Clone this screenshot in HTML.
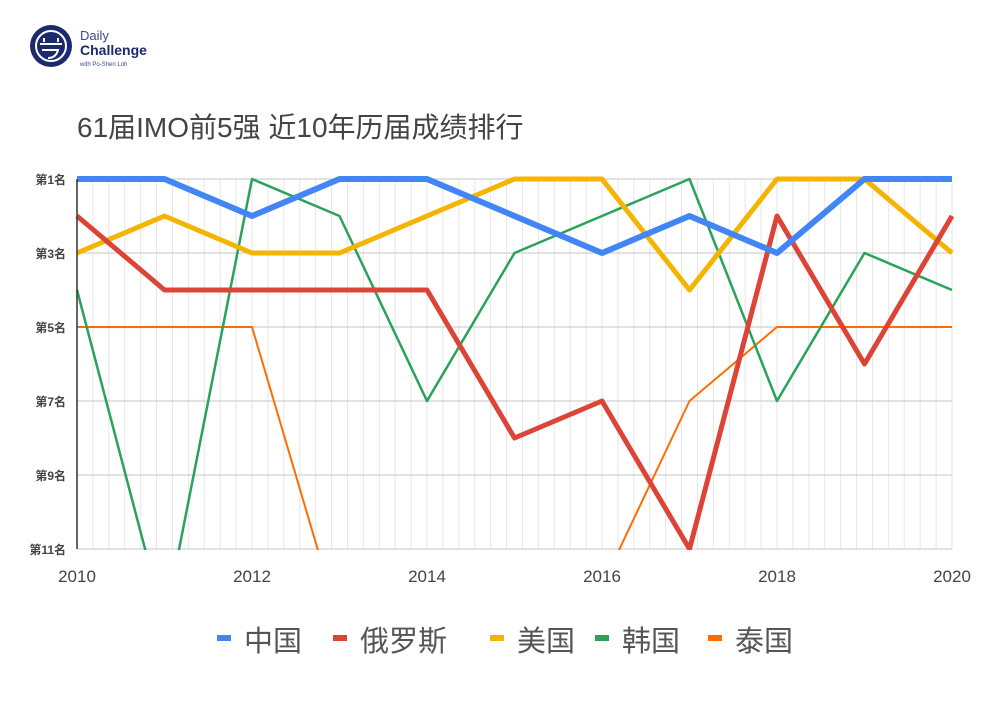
<!DOCTYPE html>
<html><head><meta charset="utf-8"><style>
body{margin:0;background:#fff;}
svg text{font-family:"Liberation Sans","Noto Sans CJK SC",sans-serif;}
</style></head><body>
<svg id="c" width="994" height="704" xmlns="http://www.w3.org/2000/svg">
<g>
<circle cx="51" cy="46" r="21" fill="#1a2a6c"/>
<circle cx="51" cy="46" r="15" fill="none" stroke="#fff" stroke-width="2"/>
<path d="M40 44 H62 M44 38 v4 M58 38 v4 M42 50 H58 Q56 58 48 58" stroke="#fff" stroke-width="2" fill="none"/>
<text x="80" y="40" font-size="13" fill="#3a4a8c">Daily</text>
<text x="80" y="55" font-size="14" font-weight="bold" fill="#1a2a6c">Challenge</text>
<text x="80" y="66" font-size="6" fill="#3a4a8c">with Po-Shen Loh</text>
</g>
<text x="77" y="137" font-size="28" fill="#444">61届IMO前5强 近10年历届成绩排行</text>
<defs><clipPath id="pc"><rect x="70" y="170" width="890" height="380"/></clipPath></defs>
<g id="grid"></g>
<g id="series" clip-path="url(#pc)"></g>
<g id="axes"></g>
<g id="legend"></g>
</svg>
<script>
const years=[2010,2011,2012,2013,2014,2015,2016,2017,2018,2019,2020];
const china=[1,1,2,1,1,2,3,2,3,1,1];
const russia=[2,4,4,4,4,8,7,11,2,6,2];
const usa=[3,2,3,3,2,1,1,4,1,1,3];
const korea=[4,13,1,2,7,3,2,1,7,3,4];
const thailand=[5,5,5,13,13,13,12,7,5,5,5];
const seriesNames=["中国","俄罗斯","美国","韩国","泰国"];
const yTicks=[1,3,5,7,9,11];
const xTicks=[2010,2012,2014,2016,2018,2020];
const NS="http://www.w3.org/2000/svg";
const x=v=>77+(v-2010)*87.5;
const y=r=>179+(r-1)*37;
function mk(t,a,p){const e=document.createElementNS(NS,t);for(const k in a)e.setAttribute(k,a[k]);p.appendChild(e);return e;}
const grid=document.getElementById('grid'),axes=document.getElementById('axes'),ser=document.getElementById('series'),leg=document.getElementById('legend');
for(let i=1;i<=55;i++){const xx=77+i*875/55;
const l=mk('line',{x1:xx,x2:xx,y1:179,y2:549,stroke:'#e6e6e6','stroke-width':1},grid);

}
yTicks.forEach(r=>{const l=mk('line',{x1:77,x2:952,y1:y(r),y2:y(r),stroke:'#d0d0d0','stroke-width':1.3},grid);


const t=mk('text',{x:66,y:y(r)+5,'font-size':12,'text-anchor':'end',fill:'#444','font-weight':'bold'},axes);t.textContent='第'+r+'名';

});
xTicks.forEach(v=>{const t=mk('text',{x:x(v),y:582,'font-size':17,'text-anchor':'middle',fill:'#444'},axes);t.textContent=v;

});
const al=mk('line',{x1:77,x2:77,y1:179,y2:549,stroke:'#333','stroke-width':1.5},axes);


const data=[china,russia,usa,korea,thailand];
const cols=['#4285f4','#db4437','#f4b400','#2aa35a','#ff6d01'];
const widths=[6,5,5,2.5,2];
const order=[4,3,2,1,0];
order.forEach(i=>{const p=mk('polyline',{points:years.map((yr,j)=>x(yr)+','+y(data[i][j])).join(' '),fill:'none',stroke:cols[i],'stroke-width':widths[i],'stroke-linejoin':'round'},ser);

});
const lx=[217,333,490,595,708];
seriesNames.forEach((n,i)=>{const g=mk('g',{},leg);


mk('rect',{x:lx[i],y:635,width:14,height:6,fill:cols[i]},g);
const t=mk('text',{x:lx[i]+27,y:651,'font-size':29,fill:'#555'},g);t.textContent=n;});
</script>
</body></html>
